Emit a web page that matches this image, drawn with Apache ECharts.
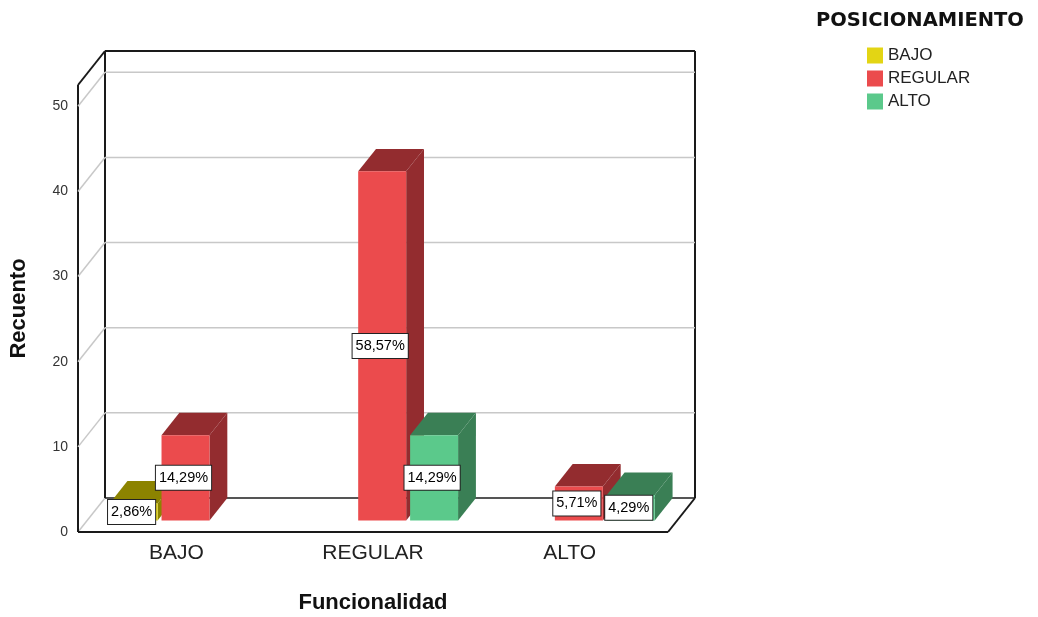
<!DOCTYPE html>
<html>
<head>
<meta charset="utf-8" />
<title>Funcionalidad</title>
<script src="https://cdn.jsdelivr.net/npm/echarts@6/dist/echarts.min.js"></script>
</head>
<body style="margin:0;background:#fff">
<div id="main" style="width:1038px;height:617px;"></div>
<script type="text/javascript">
var categories = ['BAJO', 'REGULAR', 'ALTO'];
var seriesNames = ['BAJO', 'REGULAR', 'ALTO'];
var bajoValues = [2, 0, 0];
var regularValues = [10, 41, 4];
var altoValues = [0, 10, 3];
var yTicks = [0, 10, 20, 30, 40, 50];
var total = 70;
var yMax = 52.5;

var frontColors = ['#E3D514', '#EB4B4D', '#5BC98B'];
var darkColors = ['#8C8300', '#932C2F', '#3A7F55'];
var DEPTH = [27, -34];        // floor depth in px
var BAR_FRONT = 0.34, BAR_DEPTH = 0.66;
var SLOT = 0.264, BAR_W = 0.244;

function pct(v) {
    return (v / total * 100).toFixed(2).replace('.', ',') + '%';
}

function seg(x1, y1, x2, y2, color, w) {
    return { type: 'line', shape: { x1: x1, y1: y1, x2: x2, y2: y2 },
        style: { stroke: color, lineWidth: w } };
}

function renderFrame(params, api) {
    var cs = params.coordSys;
    var x0 = cs.x, x1 = cs.x + cs.width;
    var dx = DEPTH[0], dy = DEPTH[1];
    var y = api.coord([0, api.value(1)])[1];
    var kids = [];
    kids.push(seg(x0, y, x0 + dx, y + dy, '#c8c8c8', 1.5));
    if (api.value(1) === 0) {
        var yt = api.coord([0, yMax])[1];
        var ink = '#1a1a1a';
        kids.push(seg(x0 + dx, y + dy, x1 + dx, y + dy, '#555', 2));
        kids.push(seg(x0 + dx, yt + dy, x0 + dx, y + dy, ink, 2));
        kids.push(seg(x0 + dx, yt + dy, x1 + dx, yt + dy, ink, 2));
        kids.push(seg(x1 + dx, yt + dy, x1 + dx, y + dy, ink, 2));
        kids.push(seg(x0, yt, x0 + dx, yt + dy, ink, 2));
        kids.push(seg(x0, yt, x0, y, ink, 2));
        kids.push(seg(x0, y, x1, y, ink, 2));
        kids.push(seg(x1, y, x1 + dx, y + dy, ink, 2));
    } else {
        kids.push(seg(x0 + dx, y + dy, x1 + dx, y + dy, '#c8c8c8', 1.5));
    }
    return { type: 'group', children: kids };
}

function makeBarRender(k) {
    return function (params, api) {
        var val = api.value(1);
        if (!val) return;
        var band = api.size([1, 0])[0];
        var top = api.coord([api.value(0), val]);
        var base = api.coord([api.value(0), 0]);
        var ox = DEPTH[0] * BAR_FRONT, oy = DEPTH[1] * BAR_FRONT;
        var dx = DEPTH[0] * BAR_DEPTH, dy = DEPTH[1] * BAR_DEPTH;
        var cx = top[0] + (k - 1) * band * SLOT + ox;
        var w = band * BAR_W;
        var xl = cx - w / 2, xr = cx + w / 2;
        var yt = top[1] + oy, yb = base[1] + oy;
        return {
            type: 'group',
            children: [
                { type: 'polygon', shape: { points: [[xr, yt], [xr + dx, yt + dy], [xr + dx, yb + dy], [xr, yb]] },
                    style: { fill: darkColors[k] } },
                { type: 'polygon', shape: { points: [[xl, yt], [xr, yt], [xr + dx, yt + dy], [xl + dx, yt + dy]] },
                    style: { fill: darkColors[k] } },
                { type: 'rect', shape: { x: xl, y: yt, width: w, height: yb - yt },
                    style: { fill: frontColors[k] } },
                { type: 'text', x: cx - 2, y: (yt + yb) / 2, z2: 100,
                    style: { text: pct(val), align: 'center', verticalAlign: 'middle',
                        textAlign: 'center', textVerticalAlign: 'middle',
                        fill: '#000', font: '14.5px "Liberation Sans", Arial',
                        backgroundColor: '#fff', borderColor: '#222', borderWidth: 1,
                        padding: [5, 3, 4, 3] } }
            ]
        };
    };
}

var valueLists = [bajoValues, regularValues, altoValues];

var myChart = echarts.init(document.getElementById('main'));
var option = {
    animation: false,
    backgroundColor: '#fff',
    textStyle: { fontFamily: '"Liberation Sans", Arial' },
    title: {
        text: 'POSICIONAMIENTO',
        left: 811,
        top: 6,
        textStyle: { fontFamily: '"DejaVu Sans"', fontWeight: 'bold', fontSize: 19.5, color: '#111' }
    },
    legend: {
        data: seriesNames,
        orient: 'vertical',
        left: 867,
        top: 47,
        padding: 0,
        itemWidth: 16,
        itemHeight: 16,
        itemGap: 6,
        icon: 'rect',
        textStyle: { fontSize: 17, color: '#222' }
    },
    grid: { left: 78, right: 370, top: 85, bottom: 85, containLabel: false, outerBoundsMode: 'none' },
    xAxis: {
        type: 'category',
        data: categories,
        axisLine: { show: false },
        axisTick: { show: false },
        splitLine: { show: false },
        axisLabel: { fontSize: 21, color: '#222', margin: 11 },
        name: 'Funcionalidad',
        nameLocation: 'middle',
        nameGap: 60,
        nameTextStyle: { fontSize: 22, fontWeight: 'bold', color: '#111' }
    },
    yAxis: {
        type: 'value',
        min: 0,
        max: yMax,
        interval: 10,
        axisLine: { show: false },
        axisTick: { show: false },
        splitLine: { show: false },
        axisLabel: {
            fontSize: 14, color: '#333', margin: 10,
            formatter: function (v) { return v % 10 === 0 ? v : ''; }
        },
        name: 'Recuento',
        nameLocation: 'middle',
        nameGap: 48,
        nameRotate: 90,
        nameTextStyle: { fontSize: 22, fontWeight: 'bold', color: '#111' }
    },
    series: [{
        name: 'frame',
        type: 'custom',
        z: 1,
        silent: true,
        renderItem: renderFrame,
        data: yTicks.map(function (t) { return [0, t]; })
    }].concat(seriesNames.map(function (name, k) {
        return {
            name: name,
            type: 'custom',
            z: 2,
            itemStyle: { color: frontColors[k] },
            renderItem: makeBarRender(k),
            data: valueLists[k].map(function (v, i) { return [i, v]; })
        };
    }))
};
myChart.setOption(option);
</script>
</body>
</html>
